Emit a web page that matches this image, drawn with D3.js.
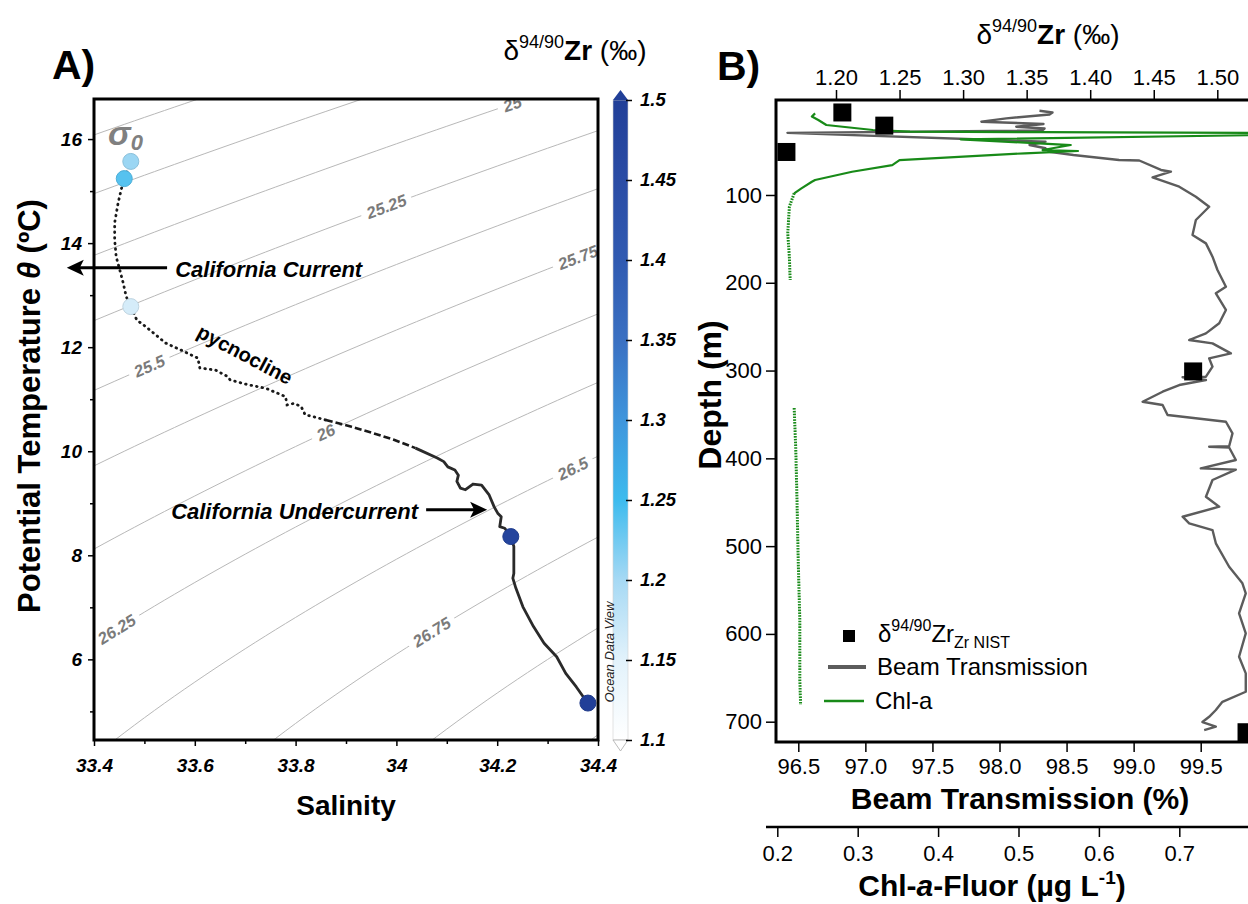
<!DOCTYPE html>
<html>
<head>
<meta charset="utf-8">
<script src="https://cdn.jsdelivr.net/npm/d3@7"></script>
<style>
  body { margin: 0; background: #fff; }
  svg { font-family: "Liberation Sans", Arial, Helvetica, sans-serif; }
</style>
</head>
<body>
<svg id="chart" width="1248" height="904"></svg>
<script>
// ---- panel A: T-S profile (salinity, potential temperature) ----
const tsSal = [33.473, 33.467, 33.460, 33.454, 33.448, 33.441, 33.441, 33.444, 33.451, 33.458, 33.464, 33.473, 33.485, 33.502,
  33.542, 33.578, 33.606, 33.610, 33.641, 33.666, 33.670, 33.705, 33.741, 33.780, 33.783, 33.797, 33.811, 33.819, 33.833, 33.860,
  33.911, 33.953, 33.995, 34.038, 34.081, 34.094, 34.102, 34.116, 34.123, 34.120, 34.127, 34.137, 34.152, 34.169, 34.184, 34.194,
  34.201, 34.208, 34.205, 34.215, 34.227, 34.233, 34.233, 34.231, 34.237, 34.251, 34.272, 34.293, 34.318, 34.336, 34.357, 34.378];
const tsTemp = [15.57, 15.41, 15.24, 15.03, 14.78, 14.39, 14.06, 13.74, 13.49, 13.23, 12.97, 12.78, 12.52, 12.40,
  12.08, 11.92, 11.79, 11.60, 11.56, 11.43, 11.37, 11.28, 11.21, 11.05, 10.89, 10.92, 10.86, 10.70, 10.67, 10.60,
  10.47, 10.35, 10.22, 10.06, 9.87, 9.80, 9.70, 9.64, 9.54, 9.42, 9.29, 9.26, 9.37, 9.35, 9.16, 8.93,
  8.81, 8.74, 8.55, 8.52, 8.36, 8.17, 7.65, 7.56, 7.37, 7.01, 6.63, 6.31, 6.05, 5.73, 5.47, 5.18];

// ---- Zr isotope samples ----
const sampleDepth = [6, 21, 51, 301, 712];
const sampleZr = [1.205, 1.238, 1.161, 1.481, 1.523];
const sampleSal = [33.473, 33.460, 33.473, 34.227, 34.380];
const sampleTemp = [15.57, 15.24, 12.78, 8.36, 5.16];

// ---- isopycnals (sigma-0) and where their labels sit (salinity) ----
const sigmaLevels = [24.5, 24.75, 25, 25.25, 25.5, 25.75, 26, 26.25, 26.5, 26.75, 27, 27.25];
const labelLevels = [25, 25.25, 25.5, 25.75, 26, 26.25, 26.5, 26.75];
const labelSal = [34.23, 33.98, 33.51, 34.36, 33.86, 33.445, 34.35, 34.07];

// ---- colour bar ----
const zrStops = [1.1, 1.15, 1.2, 1.25, 1.3, 1.35, 1.4, 1.45, 1.5];
const zrColors = ["#ffffff", "#e2f2fb", "#a6d9f4", "#3dbbee", "#3f95dc", "#3a70c2", "#305ab1", "#2a4ca5", "#213f98"];

// ---- panel B: beam transmission profile ----
const beamDepth = [4.0, 6.0, 8.3, 12.7, 16.5, 19.1, 22.2, 24.3, 26.5, 29.2, 39.3, 43.1, 46.8, 50.7, 54.5, 60.2, 60.7, 71.5, 73.5, 79.9,
  90.6, 102.0, 113.4, 128.5, 145.6, 155.1, 170.3, 185.5, 204.5, 212.0, 231.0, 246.2, 257.6, 265.2, 269.0, 280.4, 286.1, 295.6,
  307.0, 307.6, 310.8, 316.5, 324.1, 335.5, 339.3, 350.7, 358.3, 371.5, 386.2, 386.8, 387.7, 401.9, 411.4, 412.8, 424.7, 443.7,
  455.1, 466.5, 474.0, 481.7, 496.8, 523.5, 542.4, 553.8, 576.6, 599.3, 626.0, 644.9, 665.9, 677.3, 686.7, 694.4, 700.4, 705.7, 709.5];
const beamTrans = [98.298, 98.395, 98.373, 98.051, 97.865, 98.328, 98.125, 98.336, 98.318, 96.419, 98.343, 98.224, 98.343, 98.371,
  98.551, 98.891, 99.042, 99.204, 99.278, 99.141, 99.340, 99.464, 99.563, 99.464, 99.439, 99.539, 99.588, 99.625, 99.688, 99.613,
  99.688, 99.638, 99.539, 99.414, 99.588, 99.725, 99.563, 99.588, 99.539, 99.365, 99.539, 99.340, 99.216, 99.067, 99.216, 99.253,
  99.688, 99.737, 99.712, 99.563, 99.712, 99.762, 99.501, 99.762, 99.588, 99.539, 99.638, 99.365, 99.414, 99.588, 99.613, 99.712,
  99.811, 99.836, 99.786, 99.836, 99.786, 99.836, 99.836, 99.662, 99.613, 99.563, 99.513, 99.613, 99.526];

// ---- panel B: chlorophyll fluorescence ----
const chlDepth = [7.0, 10.6, 14.6, 20.3, 26.0, 27.9, 28.5, 29.4, 31.1, 36.6, 43.1, 48.8, 49.9, 52.5, 60.2, 65.9, 73.5, 82.9, 84.9,
  92.4, 98.1, 113.4, 143.7, 170.3, 196.9];
const chlFluor = [0.247, 0.243, 0.251, 0.261, 0.319, 0.365, 0.527, 0.85, 0.85, 0.428, 0.565, 0.530, 0.574, 0.508, 0.352, 0.343,
  0.293, 0.247, 0.243, 0.230, 0.221, 0.215, 0.213, 0.215, 0.216];
const chlDeepDepth = [342.7, 390.5, 447.5, 515.8, 584.1, 652.5, 681.0];
const chlDeepFluor = [0.221, 0.223, 0.2245, 0.226, 0.228, 0.228, 0.229];

// tick values
const tempTicks = [6, 8, 10, 12, 14, 16];
const tempMinor = [5, 7, 9, 11, 13, 15];
const salTicks = [33.4, 33.6, 33.8, 34, 34.2, 34.4];
const salMinor = [33.5, 33.7, 33.9, 34.1, 34.3];
const zrTicks = [1.20, 1.25, 1.30, 1.35, 1.40, 1.45, 1.50];
const beamTicks = [96.5, 97.0, 97.5, 98.0, 98.5, 99.0, 99.5];
const chlTicks = [0.2, 0.3, 0.4, 0.5, 0.6, 0.7];
const depthTicks = [100, 200, 300, 400, 500, 600, 700];

// UNESCO EOS-80 density anomaly at p = 0
function sigma0(S, T) {
  const rw = 999.842594 + 6.793952e-2 * T - 9.095290e-3 * T * T + 1.001685e-4 * T ** 3
    - 1.120083e-6 * T ** 4 + 6.536332e-9 * T ** 5;
  const A = 8.24493e-1 - 4.0899e-3 * T + 7.6438e-5 * T * T - 8.2467e-7 * T ** 3 + 5.3875e-9 * T ** 4;
  const B = -5.72466e-3 + 1.0227e-4 * T - 1.6546e-6 * T * T;
  return rw + A * S + B * S ** 1.5 + 4.8314e-4 * S * S - 1000;
}
function tempOnIsopycnal(S, level) {
  let lo = -2, hi = 35;
  for (let i = 0; i < 50; i++) {
    const mid = (lo + hi) / 2;
    if (sigma0(S, mid) > level) lo = mid; else hi = mid;
  }
  return (lo + hi) / 2;
}

const svg = d3.select("#chart");
const defs = svg.append("defs");
defs.append("clipPath").attr("id", "clipA").append("rect")
  .attr("x", 94).attr("y", 99).attr("width", 504).attr("height", 641);
defs.append("clipPath").attr("id", "clipB").append("rect")
  .attr("x", 776).attr("y", 100).attr("width", 520).attr("height", 642);

const zrColor = d3.scaleLinear().domain(zrStops).range(zrColors).clamp(true);

// =================== PANEL A ===================
const xA = d3.scaleLinear().domain([33.4, 34.4]).range([94, 598]);
const yA = d3.scaleLinear().domain([4.45, 16.77]).range([740, 99]);

const contourG = svg.append("g").attr("clip-path", "url(#clipA)");
const salGrid = d3.range(33.3, 34.52, 0.02);
const isoLine = d3.line().x(d => xA(d[0])).y(d => yA(d[1]));
sigmaLevels.forEach(lv => {
  contourG.append("path")
    .attr("d", isoLine(salGrid.map(s => [s, tempOnIsopycnal(s, lv)])))
    .attr("fill", "none").attr("stroke", "#b8b8b8").attr("stroke-width", 1);
});

labelLevels.forEach((lv, i) => {
  const s = labelSal[i];
  const t = tempOnIsopycnal(s, lv);
  const dx = xA(s + 0.01) - xA(s - 0.01);
  const dy = yA(tempOnIsopycnal(s + 0.01, lv)) - yA(tempOnIsopycnal(s - 0.01, lv));
  const ang = Math.atan2(dy, dx) * 180 / Math.PI;
  const g = contourG.append("g")
    .attr("transform", `translate(${xA(s)},${yA(t)}) rotate(${ang})`);
  const txt = g.append("text")
    .attr("text-anchor", "middle").attr("dy", "0.36em")
    .attr("font-size", 16.5).attr("font-weight", "bold").attr("font-style", "italic")
    .attr("fill", "#7a7a7a").text(String(lv));
  const bb = txt.node().getBBox();
  g.insert("rect", "text")
    .attr("x", bb.x - 5).attr("y", bb.y + 2).attr("width", bb.width + 10).attr("height", bb.height - 4)
    .attr("fill", "#fff");
});

// profile: dotted above the pycnocline, dashed through it, solid below
const tsData = tsSal.map((s, i) => ({ s, t: tsTemp[i] }));
const tsLine = d3.line().x(d => xA(d.s)).y(d => yA(d.t));
const profG = svg.append("g").attr("clip-path", "url(#clipA)");
profG.append("path").attr("d", tsLine(tsData.filter(d => d.t >= 10.6)))
  .attr("fill", "none").attr("stroke", "#1a1a1a").attr("stroke-width", 2.8)
  .attr("stroke-linecap", "round").attr("stroke-dasharray", "0.6 5");
profG.append("path").attr("d", tsLine(tsData.filter(d => d.t <= 10.6 && d.t >= 10.06)))
  .attr("fill", "none").attr("stroke", "#1a1a1a").attr("stroke-width", 2.6)
  .attr("stroke-dasharray", "7 3");
profG.append("path").attr("d", tsLine(tsData.filter(d => d.t <= 10.06)))
  .attr("fill", "none").attr("stroke", "#2a2a2a").attr("stroke-width", 2.8)
  .attr("stroke-linejoin", "round");

// sample circles
const samples = sampleZr.map((z, i) => ({ z, s: sampleSal[i], t: sampleTemp[i], d: sampleDepth[i] }));
svg.append("g").selectAll("circle").data(samples).join("circle")
  .attr("cx", d => xA(d.s)).attr("cy", d => yA(d.t)).attr("r", 8)
  .attr("fill", d => zrColor(d.z))
  .attr("stroke", d => d3.color(zrColor(d.z)).darker(0.3)).attr("stroke-width", 1);

// frame
svg.append("rect").attr("x", 94).attr("y", 99).attr("width", 504).attr("height", 641)
  .attr("fill", "none").attr("stroke", "#000").attr("stroke-width", 3);

function styleAxis(g, size, weight, italic) {
  g.select(".domain").remove();
  g.selectAll(".tick line").attr("stroke", "#000").attr("stroke-width", 1.5);
  g.selectAll("text").attr("fill", "#000").attr("font-size", size)
    .attr("font-weight", weight).attr("font-style", italic ? "italic" : "normal")
    .attr("font-family", '"Liberation Sans", Arial, Helvetica, sans-serif');
}

svg.append("g").attr("transform", "translate(94,0)")
  .call(d3.axisLeft(yA).tickValues(tempTicks).tickSize(6).tickPadding(6))
  .call(g => styleAxis(g, 19, "bold", true));
svg.append("g").attr("transform", "translate(94,0)")
  .call(d3.axisLeft(yA).tickValues(tempMinor).tickSize(4).tickFormat(""))
  .call(g => styleAxis(g, 19, "bold", true));
svg.append("g").attr("transform", "translate(0,740)")
  .call(d3.axisBottom(xA).tickValues(salTicks).tickSize(6).tickPadding(13).tickFormat(d3.format("~g")))
  .call(g => styleAxis(g, 19, "bold", true));
svg.append("g").attr("transform", "translate(0,740)")
  .call(d3.axisBottom(xA).tickValues(salMinor).tickSize(4).tickFormat(""))
  .call(g => styleAxis(g, 19, "bold", true));

// axis titles A
svg.append("text").attr("x", 346).attr("y", 815).attr("text-anchor", "middle")
  .attr("font-size", 28).attr("font-weight", "bold").text("Salinity");
const yTitleA = svg.append("text").attr("transform", "translate(40,406) rotate(-90)")
  .attr("text-anchor", "middle").attr("font-size", 31).attr("font-weight", "bold");
yTitleA.append("tspan").text("Potential Temperature ");
yTitleA.append("tspan").attr("font-style", "italic").text("θ");
yTitleA.append("tspan").text(" (ºC)");

svg.append("text").attr("x", 52).attr("y", 79).attr("font-size", 41).attr("font-weight", "bold").text("A)");

// annotations (placed in data space)
const sig = svg.append("text").attr("x", xA(33.428)).attr("y", yA(15.89))
  .attr("fill", "#808080").attr("font-weight", "bold").attr("font-style", "italic");
sig.append("tspan").attr("font-size", 34).text("σ");
sig.append("tspan").attr("font-size", 22).attr("dy", 5).text("0");

function arrow(x1, y1, x2, y2) {
  const g = svg.append("g");
  const dir = Math.sign(x2 - x1);
  g.append("line").attr("x1", x1).attr("y1", y1).attr("x2", x2 - dir * 12).attr("y2", y2)
    .attr("stroke", "#000").attr("stroke-width", 3);
  g.append("path").attr("d", `M${x2},${y2} L${x2 - dir * 17},${y2 - 8} L${x2 - dir * 13},${y2} L${x2 - dir * 17},${y2 + 8} Z`)
    .attr("fill", "#000");
}
svg.append("text").attr("x", xA(33.561)).attr("y", yA(13.35))
  .attr("font-size", 22).attr("font-weight", "bold").attr("font-style", "italic").text("California Current");
arrow(xA(33.545), yA(13.525), xA(33.346), yA(13.525));
svg.append("text").attr("x", xA(34.043)).attr("y", yA(8.70)).attr("text-anchor", "end")
  .attr("font-size", 22).attr("font-weight", "bold").attr("font-style", "italic").text("California Undercurrent");
arrow(xA(34.059), yA(8.875), xA(34.180), yA(8.875));
svg.append("text").attr("transform", `translate(${xA(33.693)},${yA(11.74)}) rotate(28)`)
  .attr("text-anchor", "middle").attr("font-size", 20).attr("font-weight", "bold").text("pycnocline");

// colour bar
const cb = d3.scaleLinear().domain([1.1, 1.5]).range([740, 100]);
const grad = defs.append("linearGradient").attr("id", "zrGrad")
  .attr("x1", 0).attr("y1", 1).attr("x2", 0).attr("y2", 0);
zrStops.forEach((v, i) => grad.append("stop")
  .attr("offset", (v - 1.1) / 0.4).attr("stop-color", zrColors[i]));
svg.append("rect").attr("x", 613).attr("y", cb(1.5)).attr("width", 15).attr("height", cb(1.1) - cb(1.5))
  .attr("fill", "url(#zrGrad)").attr("stroke", "#d0d0d0").attr("stroke-width", 0.6);
svg.append("path").attr("d", `M613,${cb(1.5)} L628,${cb(1.5)} L620.5,${cb(1.5) - 10} Z`).attr("fill", zrColors[8]);
svg.append("path").attr("d", `M613,${cb(1.1)} L628,${cb(1.1)} L620.5,${cb(1.1) + 11} Z`)
  .attr("fill", "#fff").attr("stroke", "#aaa").attr("stroke-width", 0.8);
svg.append("g").attr("transform", "translate(626,0)")
  .call(d3.axisRight(cb).tickValues(zrStops).tickSize(6).tickPadding(8).tickFormat(d3.format("~g")))
  .call(g => styleAxis(g, 18.5, "bold", true));
svg.append("text").attr("transform", "translate(614,652) rotate(-90)").attr("text-anchor", "middle")
  .attr("font-size", 13).attr("font-style", "italic").attr("fill", "#222").text("Ocean Data View");

function zrTitle(x, y) {
  const t = svg.append("text").attr("x", x).attr("y", y).attr("text-anchor", "middle").attr("font-size", 28);
  t.append("tspan").text("δ");
  t.append("tspan").attr("font-size", 18).attr("dy", -12).text("94/90");
  t.append("tspan").attr("font-weight", "bold").attr("dy", 12).text("Zr");
  t.append("tspan").text(" (‰)");
}
zrTitle(575, 60);

// =================== PANEL B ===================
const yD = d3.scaleLinear().domain([0, 700]).range([107.2, 721.7]);
const xZr = d3.scaleLinear().domain([1.20, 1.50]).range([836, 1217.3]);
const xBT = d3.scaleLinear().domain([96.5, 99.5]).range([798.3, 1200.7]);
const xChl = d3.scaleLinear().domain([0.2, 0.7]).range([777.3, 1179.3]);

const plotB = svg.append("g").attr("clip-path", "url(#clipB)");
const beamData = beamDepth.map((d, i) => ({ d, v: beamTrans[i] }));
plotB.append("path")
  .attr("d", d3.line().x(p => xBT(p.v)).y(p => yD(p.d))(beamData))
  .attr("fill", "none").attr("stroke", "#5c5c5c").attr("stroke-width", 2.4).attr("stroke-linejoin", "round");
const chlLine = d3.line().x(p => xChl(p.v)).y(p => yD(p.d));
const chlData = chlDepth.map((d, i) => ({ d, v: chlFluor[i] }));
plotB.append("path")
  .attr("d", chlLine(chlData.filter(p => p.d <= 98.1)))
  .attr("fill", "none").attr("stroke", "#188a18").attr("stroke-width", 2.2).attr("stroke-linejoin", "round");
// deeper fluorescence samples are sparse: drawn as a stippled trace
plotB.append("path")
  .attr("d", chlLine(chlData.filter(p => p.d >= 98.1)))
  .attr("fill", "none").attr("stroke", "#188a18").attr("stroke-width", 3).attr("stroke-dasharray", "1.6 1.2");
plotB.append("path")
  .attr("d", chlLine(chlDeepDepth.map((d, i) => ({ d, v: chlDeepFluor[i] }))))
  .attr("fill", "none").attr("stroke", "#188a18").attr("stroke-width", 3).attr("stroke-dasharray", "1.6 1.2");

svg.append("g").selectAll("rect").data(samples).join("rect")
  .attr("x", d => xZr(d.z) - 9).attr("y", d => yD(d.d) - 9).attr("width", 18).attr("height", 18)
  .attr("fill", "#000");

// frame B
svg.append("path").attr("d", "M1260,100 L776,100 L776,742 L1260,742")
  .attr("fill", "none").attr("stroke", "#000").attr("stroke-width", 3);

svg.append("g").attr("transform", "translate(0,100)")
  .call(d3.axisTop(xZr).tickValues(zrTicks).tickSize(10).tickPadding(5).tickFormat(d3.format(".2f")))
  .call(g => styleAxis(g, 22, "normal", false));
svg.append("g").attr("transform", "translate(0,742)")
  .call(d3.axisBottom(xBT).tickValues(beamTicks).tickSize(10).tickPadding(6).tickFormat(d3.format(".1f")))
  .call(g => styleAxis(g, 22, "normal", false));
svg.append("g").attr("transform", "translate(776,0)")
  .call(d3.axisLeft(yD).tickValues(depthTicks).tickSize(10).tickPadding(4))
  .call(g => styleAxis(g, 22, "normal", false));
svg.append("line").attr("x1", 766).attr("x2", 1260).attr("y1", 827).attr("y2", 827)
  .attr("stroke", "#000").attr("stroke-width", 2.7);
svg.append("g").attr("transform", "translate(0,827)")
  .call(d3.axisBottom(xChl).tickValues(chlTicks).tickSize(10).tickPadding(8).tickFormat(d3.format(".1f")))
  .call(g => styleAxis(g, 22, "normal", false));

zrTitle(1048, 44);
svg.append("text").attr("x", 717).attr("y", 80).attr("font-size", 41).attr("font-weight", "bold").text("B)");
svg.append("text").attr("x", 1020).attr("y", 809).attr("text-anchor", "middle")
  .attr("font-size", 30).attr("font-weight", "bold").text("Beam Transmission (%)");
const chlT = svg.append("text").attr("x", 992).attr("y", 896).attr("text-anchor", "middle")
  .attr("font-size", 30).attr("font-weight", "bold");
chlT.append("tspan").text("Chl-");
chlT.append("tspan").attr("font-style", "italic").text("a");
chlT.append("tspan").text("-Fluor (µg  L");
chlT.append("tspan").attr("font-size", 19).attr("dy", -12).text("-1");
chlT.append("tspan").attr("dy", 12).text(")");
svg.append("text").attr("transform", "translate(721,395) rotate(-90)").attr("text-anchor", "middle")
  .attr("font-size", 32).attr("font-weight", "bold").text("Depth (m)");

// legend
const lg = svg.append("g").attr("font-size", 24);
lg.append("rect").attr("x", 843).attr("y", 630).attr("width", 12).attr("height", 12).attr("fill", "#000");
const l1 = lg.append("text").attr("x", 878).attr("y", 642);
l1.append("tspan").text("δ");
l1.append("tspan").attr("font-size", 16).attr("dy", -11).text("94/90");
l1.append("tspan").attr("dy", 11).text("Zr");
l1.append("tspan").attr("font-size", 16).attr("dy", 6).text("Zr NIST");
lg.append("line").attr("x1", 828).attr("x2", 866).attr("y1", 667).attr("y2", 667)
  .attr("stroke", "#5c5c5c").attr("stroke-width", 4);
lg.append("text").attr("x", 877).attr("y", 675).text("Beam Transmission");
lg.append("line").attr("x1", 824).attr("x2", 864).attr("y1", 701).attr("y2", 701)
  .attr("stroke", "#188a18").attr("stroke-width", 2.5);
lg.append("text").attr("x", 875).attr("y", 709).text("Chl-a");
</script>
</body>
</html>
